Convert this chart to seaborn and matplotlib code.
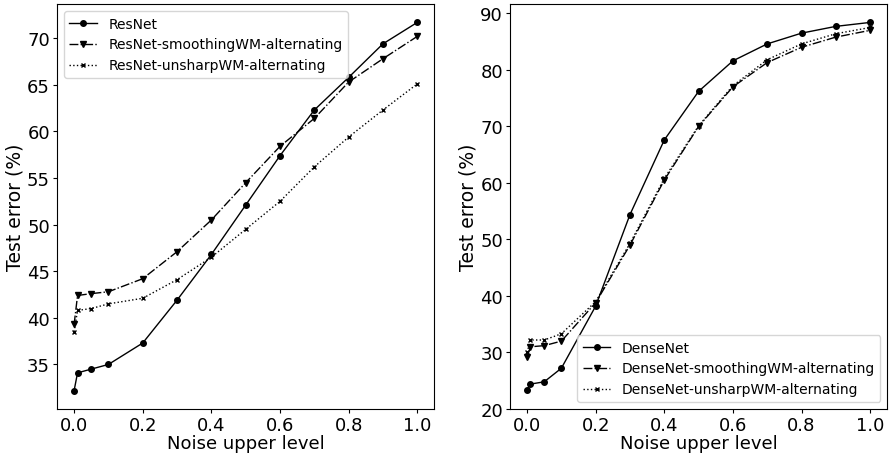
import pandas as pd
import matplotlib
matplotlib.use("Agg")
import matplotlib.pyplot as plt
import seaborn as sns

noise = [0.0, 0.01, 0.05, 0.1, 0.2, 0.3, 0.4, 0.5, 0.6, 0.7, 0.8, 0.9, 1.0]

resnet = [32.2, 34.1, 34.5, 35.0, 37.3, 41.9, 46.8, 52.1, 57.4, 62.3, 65.8, 69.4, 71.7]
resnet_smooth = [39.3, 42.4, 42.6, 42.8, 44.2, 47.1, 50.5, 54.5, 58.4, 61.4, 65.3, 67.8, 70.2]
resnet_unsharp = [38.5, 40.8, 41.0, 41.5, 42.1, 44.1, 46.5, 49.5, 52.5, 56.2, 59.4, 62.3, 65.1]

densenet = [23.3, 24.4, 24.8, 27.2, 38.2, 54.4, 67.6, 76.2, 81.6, 84.6, 86.5, 87.7, 88.4]
densenet_smooth = [29.2, 31.0, 31.2, 32.0, 38.8, 49.0, 60.5, 70.0, 77.0, 81.3, 84.0, 85.8, 87.0]
densenet_unsharp = [30.0, 32.2, 32.2, 33.3, 39.0, 49.3, 60.8, 70.1, 77.2, 81.8, 84.6, 86.4, 87.5]

styles = [("-", "o", 4), ("-.", "v", 4.5), (":", "x", 3.5)]

fig, axes = plt.subplots(1, 2, figsize=(8.9, 4.56), dpi=100)
fig.subplots_adjust(left=0.064, right=0.997, top=0.989, bottom=0.101, wspace=0.2)

panels = [
    (axes[0], "ResNet", [resnet, resnet_smooth, resnet_unsharp], "upper left"),
    (axes[1], "DenseNet", [densenet, densenet_smooth, densenet_unsharp], "lower right"),
]

for ax, net, series, loc in panels:
    names = [net, net + "-smoothingWM-alternating", net + "-unsharpWM-alternating"]
    for vals, name, (ls, mk, ms) in zip(series, names, styles):
        df = pd.DataFrame({"noise": noise, "err": vals})
        sns.lineplot(data=df, x="noise", y="err", ax=ax, color="black", linestyle=ls,
                     marker=mk, markersize=ms, linewidth=1, label=name,
                     markeredgecolor="black", markeredgewidth=1)
    ax.set_xlabel("Noise upper level", fontsize=13, labelpad=0)
    ax.set_ylabel("Test error (%)", fontsize=13.5, labelpad=2)
    ax.tick_params(labelsize=13, pad=2, length=3)
    ax.set_xticks([0.0, 0.2, 0.4, 0.6, 0.8, 1.0])
    ax.legend(loc=loc, fontsize=10)

axes[1].set_yticks([20, 30, 40, 50, 60, 70, 80, 90])

plt.savefig("out.png")
